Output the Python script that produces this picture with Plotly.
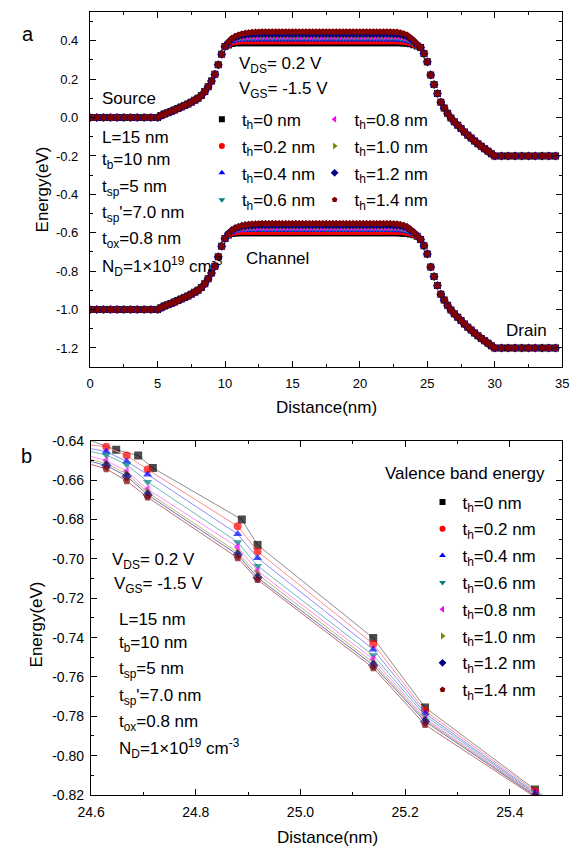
import plotly.graph_objects as go

# ---------------- data ----------------
TH_LABELS = ['0', '0.2', '0.4', '0.6', '0.8', '1.0', '1.2', '1.4']
COLORS = ['#000000', '#FF0000', '#0000FF', '#008080', '#FF00FF', '#808000', '#000080', '#800000']
LINE_COLORS = ['#8C8C8C', '#FF8C8C', '#8C8CFF', '#70B8B8', '#FF8CFF', '#B8B870', '#7070B8', '#B87070']
SYMBOLS = ['square', 'circle', 'triangle-up', 'triangle-down', 'triangle-left', 'triangle-right', 'diamond', 'pentagon']

# Panel a: shared source-side region (all t_h overlap)
x_src = [0, 0.5, 1, 1.5, 2, 2.5, 3, 3.5, 4, 4.5, 5, 5.25, 5.5, 5.75, 6, 6.25, 6.5, 6.75, 7, 7.25,
         7.5, 7.75, 8, 8.25, 8.5, 8.75, 9, 9.25, 9.5, 9.75, 10]
cb_src = [0, 0, 0, 0, 0, 0, 0, 0, 0, 0, 0, 0.010, 0.018, 0.025, 0.032, 0.039, 0.047, 0.055, 0.063, 0.071,
          0.080, 0.090, 0.100, 0.115, 0.135, 0.160, 0.190, 0.225, 0.275, 0.330, 0.370]
vb_src = [-1.0, -1.0, -1.0, -1.0, -1.0, -1.0, -1.0, -1.0, -1.0, -1.0, -1.0, -0.990, -0.982, -0.975, -0.968,
          -0.961, -0.953, -0.945, -0.937, -0.929, -0.920, -0.910, -0.900, -0.885, -0.865, -0.840, -0.810,
          -0.775, -0.725, -0.670, -0.630]

# Panel a: channel region (series differ), 10.25 ... 24.25 nm
x_ch = [10.25, 10.5, 10.75, 11, 11.25, 11.5, 11.75, 12, 12.25, 12.5,
        12.75, 13, 13.25, 13.5, 13.75, 14, 14.25, 14.5, 14.75, 15, 15.25, 15.5, 15.75,
        16, 16.25, 16.5, 16.75, 17, 17.25, 17.5, 17.75, 18, 18.25, 18.5, 18.75, 19,
        19.25, 19.5, 19.75, 20, 20.25, 20.5, 20.75, 21, 21.25, 21.5, 21.75, 22, 22.25,
        22.5, 22.75, 23, 23.25, 23.5, 23.75, 24, 24.25]

cb_ch_0 = [0.378, 0.386, 0.389, 0.390, 0.390, 0.390, 0.390, 0.390, 0.390, 0.390,
           0.390, 0.390, 0.390, 0.390, 0.390, 0.390, 0.390, 0.390, 0.390, 0.390, 0.390, 0.390, 0.390,
           0.390, 0.390, 0.390, 0.390, 0.390, 0.390, 0.390, 0.390, 0.390, 0.390, 0.390, 0.390, 0.390,
           0.390, 0.390, 0.390, 0.390, 0.390, 0.390, 0.390, 0.390, 0.390, 0.390, 0.390, 0.390, 0.390,
           0.390, 0.390, 0.389, 0.388, 0.387, 0.384, 0.379, 0.372]
cb_ch_1 = [0.381, 0.391, 0.395, 0.397, 0.398, 0.398, 0.398, 0.398, 0.398, 0.398,
           0.398, 0.398, 0.398, 0.398, 0.398, 0.398, 0.398, 0.398, 0.398, 0.398, 0.398, 0.398, 0.398,
           0.398, 0.398, 0.398, 0.398, 0.398, 0.398, 0.398, 0.398, 0.398, 0.398, 0.398, 0.398, 0.398,
           0.398, 0.398, 0.398, 0.398, 0.398, 0.398, 0.398, 0.398, 0.398, 0.398, 0.398, 0.398, 0.398,
           0.398, 0.398, 0.397, 0.395, 0.393, 0.389, 0.382, 0.374]
cb_ch_2 = [0.383, 0.395, 0.401, 0.404, 0.405, 0.406, 0.406, 0.406, 0.406, 0.406,
           0.406, 0.406, 0.406, 0.406, 0.406, 0.406, 0.406, 0.406, 0.406, 0.406, 0.406, 0.406, 0.406,
           0.406, 0.406, 0.406, 0.406, 0.406, 0.406, 0.406, 0.406, 0.406, 0.406, 0.406, 0.406, 0.406,
           0.406, 0.406, 0.406, 0.406, 0.406, 0.406, 0.406, 0.406, 0.406, 0.406, 0.406, 0.406, 0.406,
           0.406, 0.405, 0.404, 0.402, 0.399, 0.393, 0.385, 0.375]
cb_ch_3 = [0.385, 0.399, 0.406, 0.410, 0.412, 0.413, 0.414, 0.414, 0.414, 0.414,
           0.414, 0.414, 0.414, 0.414, 0.414, 0.414, 0.414, 0.414, 0.414, 0.414, 0.414, 0.414, 0.414,
           0.414, 0.414, 0.414, 0.414, 0.414, 0.414, 0.414, 0.414, 0.414, 0.414, 0.414, 0.414, 0.414,
           0.414, 0.414, 0.414, 0.414, 0.414, 0.414, 0.414, 0.414, 0.414, 0.414, 0.414, 0.414, 0.414,
           0.414, 0.413, 0.412, 0.409, 0.405, 0.398, 0.388, 0.376]
cb_ch_4 = [0.387, 0.402, 0.410, 0.415, 0.418, 0.420, 0.421, 0.422, 0.422, 0.422,
           0.422, 0.422, 0.422, 0.422, 0.422, 0.422, 0.422, 0.422, 0.422, 0.422, 0.422, 0.422, 0.422,
           0.422, 0.422, 0.422, 0.422, 0.422, 0.422, 0.422, 0.422, 0.422, 0.422, 0.422, 0.422, 0.422,
           0.422, 0.422, 0.422, 0.422, 0.422, 0.422, 0.422, 0.422, 0.422, 0.422, 0.422, 0.422, 0.422,
           0.422, 0.421, 0.419, 0.416, 0.411, 0.402, 0.391, 0.377]
cb_ch_5 = [0.389, 0.405, 0.414, 0.420, 0.424, 0.427, 0.428, 0.429, 0.430, 0.430,
           0.430, 0.430, 0.430, 0.430, 0.430, 0.430, 0.430, 0.430, 0.430, 0.430, 0.430, 0.430, 0.430,
           0.430, 0.430, 0.430, 0.430, 0.430, 0.430, 0.430, 0.430, 0.430, 0.430, 0.430, 0.430, 0.430,
           0.430, 0.430, 0.430, 0.430, 0.430, 0.430, 0.430, 0.430, 0.430, 0.430, 0.430, 0.430, 0.430,
           0.430, 0.429, 0.427, 0.423, 0.417, 0.407, 0.394, 0.378]
cb_ch_6 = [0.391, 0.408, 0.418, 0.425, 0.430, 0.433, 0.435, 0.436, 0.437, 0.438,
           0.438, 0.438, 0.438, 0.438, 0.438, 0.438, 0.438, 0.438, 0.438, 0.438, 0.438, 0.438, 0.438,
           0.438, 0.438, 0.438, 0.438, 0.438, 0.438, 0.438, 0.438, 0.438, 0.438, 0.438, 0.438, 0.438,
           0.438, 0.438, 0.438, 0.438, 0.438, 0.438, 0.438, 0.438, 0.438, 0.438, 0.438, 0.438, 0.438,
           0.437, 0.436, 0.434, 0.430, 0.423, 0.411, 0.397, 0.379]
cb_ch_7 = [0.393, 0.411, 0.422, 0.430, 0.435, 0.439, 0.442, 0.444, 0.445, 0.446,
           0.447, 0.447, 0.447, 0.447, 0.447, 0.447, 0.447, 0.447, 0.447, 0.447, 0.447, 0.447, 0.447,
           0.447, 0.447, 0.447, 0.447, 0.447, 0.447, 0.447, 0.447, 0.447, 0.447, 0.447, 0.447, 0.447,
           0.447, 0.447, 0.447, 0.447, 0.447, 0.447, 0.447, 0.447, 0.447, 0.447, 0.447, 0.447, 0.447,
           0.446, 0.445, 0.442, 0.437, 0.430, 0.416, 0.400, 0.380]

vb_ch_0 = [-0.612, -0.604, -0.601, -0.600, -0.600, -0.600, -0.600, -0.600, -0.600, -0.600,
           -0.600, -0.600, -0.600, -0.600, -0.600, -0.600, -0.600, -0.600, -0.600, -0.600, -0.600, -0.600, -0.600,
           -0.600, -0.600, -0.600, -0.600, -0.600, -0.600, -0.600, -0.600, -0.600, -0.600, -0.600, -0.600, -0.600,
           -0.600, -0.600, -0.600, -0.600, -0.600, -0.600, -0.600, -0.600, -0.600, -0.600, -0.600, -0.600, -0.600,
           -0.600, -0.600, -0.601, -0.602, -0.603, -0.606, -0.611, -0.618]
vb_ch_1 = [-0.610, -0.600, -0.596, -0.594, -0.593, -0.593, -0.593, -0.593, -0.593, -0.593,
           -0.593, -0.593, -0.593, -0.593, -0.593, -0.593, -0.593, -0.593, -0.593, -0.593, -0.593, -0.593, -0.593,
           -0.593, -0.593, -0.593, -0.593, -0.593, -0.593, -0.593, -0.593, -0.593, -0.593, -0.593, -0.593, -0.593,
           -0.593, -0.593, -0.593, -0.593, -0.593, -0.593, -0.593, -0.593, -0.593, -0.593, -0.593, -0.593, -0.593,
           -0.593, -0.593, -0.594, -0.596, -0.598, -0.602, -0.609, -0.617]
vb_ch_2 = [-0.609, -0.597, -0.591, -0.588, -0.587, -0.586, -0.586, -0.586, -0.586, -0.586,
           -0.586, -0.586, -0.586, -0.586, -0.586, -0.586, -0.586, -0.586, -0.586, -0.586, -0.586, -0.586, -0.586,
           -0.586, -0.586, -0.586, -0.586, -0.586, -0.586, -0.586, -0.586, -0.586, -0.586, -0.586, -0.586, -0.586,
           -0.586, -0.586, -0.586, -0.586, -0.586, -0.586, -0.586, -0.586, -0.586, -0.586, -0.586, -0.586, -0.586,
           -0.586, -0.587, -0.588, -0.590, -0.593, -0.599, -0.607, -0.617]
vb_ch_3 = [-0.608, -0.594, -0.587, -0.583, -0.581, -0.580, -0.579, -0.579, -0.579, -0.579,
           -0.579, -0.579, -0.579, -0.579, -0.579, -0.579, -0.579, -0.579, -0.579, -0.579, -0.579, -0.579, -0.579,
           -0.579, -0.579, -0.579, -0.579, -0.579, -0.579, -0.579, -0.579, -0.579, -0.579, -0.579, -0.579, -0.579,
           -0.579, -0.579, -0.579, -0.579, -0.579, -0.579, -0.579, -0.579, -0.579, -0.579, -0.579, -0.579, -0.579,
           -0.579, -0.580, -0.581, -0.584, -0.588, -0.595, -0.605, -0.617]
vb_ch_4 = [-0.607, -0.592, -0.584, -0.579, -0.576, -0.574, -0.573, -0.572, -0.572, -0.572,
           -0.572, -0.572, -0.572, -0.572, -0.572, -0.572, -0.572, -0.572, -0.572, -0.572, -0.572, -0.572, -0.572,
           -0.572, -0.572, -0.572, -0.572, -0.572, -0.572, -0.572, -0.572, -0.572, -0.572, -0.572, -0.572, -0.572,
           -0.572, -0.572, -0.572, -0.572, -0.572, -0.572, -0.572, -0.572, -0.572, -0.572, -0.572, -0.572, -0.572,
           -0.572, -0.573, -0.575, -0.578, -0.583, -0.592, -0.603, -0.617]
vb_ch_5 = [-0.606, -0.590, -0.581, -0.575, -0.571, -0.568, -0.567, -0.566, -0.565, -0.565,
           -0.565, -0.565, -0.565, -0.565, -0.565, -0.565, -0.565, -0.565, -0.565, -0.565, -0.565, -0.565, -0.565,
           -0.565, -0.565, -0.565, -0.565, -0.565, -0.565, -0.565, -0.565, -0.565, -0.565, -0.565, -0.565, -0.565,
           -0.565, -0.565, -0.565, -0.565, -0.565, -0.565, -0.565, -0.565, -0.565, -0.565, -0.565, -0.565, -0.565,
           -0.565, -0.566, -0.568, -0.572, -0.578, -0.588, -0.601, -0.617]
vb_ch_6 = [-0.605, -0.588, -0.578, -0.571, -0.566, -0.563, -0.561, -0.560, -0.559, -0.558,
           -0.558, -0.558, -0.558, -0.558, -0.558, -0.558, -0.558, -0.558, -0.558, -0.558, -0.558, -0.558, -0.558,
           -0.558, -0.558, -0.558, -0.558, -0.558, -0.558, -0.558, -0.558, -0.558, -0.558, -0.558, -0.558, -0.558,
           -0.558, -0.558, -0.558, -0.558, -0.558, -0.558, -0.558, -0.558, -0.558, -0.558, -0.558, -0.558, -0.558,
           -0.559, -0.560, -0.562, -0.566, -0.573, -0.585, -0.599, -0.617]
vb_ch_7 = [-0.606, -0.588, -0.577, -0.569, -0.564, -0.560, -0.557, -0.555, -0.554, -0.553,
           -0.552, -0.552, -0.552, -0.552, -0.552, -0.552, -0.552, -0.552, -0.552, -0.552, -0.552, -0.552, -0.552,
           -0.552, -0.552, -0.552, -0.552, -0.552, -0.552, -0.552, -0.552, -0.552, -0.552, -0.552, -0.552, -0.552,
           -0.552, -0.552, -0.552, -0.552, -0.552, -0.552, -0.552, -0.552, -0.552, -0.552, -0.552, -0.552, -0.552,
           -0.553, -0.554, -0.557, -0.562, -0.569, -0.583, -0.599, -0.619]

# Panel a: shared drain-side region
x_drn = [24.5, 24.75, 25, 25.25, 25.5, 25.75, 26, 26.25, 26.5, 26.75, 27, 27.25, 27.5, 27.75, 28, 28.25,
         28.5, 28.75, 29, 29.25, 29.5, 29.75, 30, 30.5, 31, 31.5, 32, 32.5, 33, 33.5, 34, 34.5]
cb_drn = [0.365, 0.333, 0.290, 0.222, 0.172, 0.125, 0.080, 0.050, 0.022, -0.002, -0.022, -0.040, -0.057,
          -0.075, -0.092, -0.107, -0.122, -0.136, -0.150, -0.163, -0.176, -0.188, -0.200, -0.200, -0.200,
          -0.200, -0.200, -0.200, -0.200, -0.200, -0.200, -0.200]
vb_drn = [-0.635, -0.667, -0.710, -0.778, -0.828, -0.875, -0.920, -0.950, -0.978, -1.002, -1.022, -1.040,
          -1.057, -1.075, -1.092, -1.107, -1.122, -1.136, -1.150, -1.163, -1.176, -1.188, -1.200, -1.200,
          -1.200, -1.200, -1.200, -1.200, -1.200, -1.200, -1.200, -1.200]

CB_CH = [cb_ch_0, cb_ch_1, cb_ch_2, cb_ch_3, cb_ch_4, cb_ch_5, cb_ch_6, cb_ch_7]
VB_CH = [vb_ch_0, vb_ch_1, vb_ch_2, vb_ch_3, vb_ch_4, vb_ch_5, vb_ch_6, vb_ch_7]

# Panel b: valence band energy, zoomed
xb_0 = [24.6, 24.648, 24.69, 24.718, 24.888, 24.918, 25.139, 25.238, 25.448, 25.5]
xb_n = [24.6, 24.629, 24.668, 24.708, 24.880, 24.918, 25.139, 25.238, 25.448, 25.5]
yb_0 = [-0.6400, -0.6446, -0.6475, -0.6538, -0.6800, -0.6929, -0.7402, -0.7755, -0.8172, -0.8275]
yb_1 = [-0.6422, -0.6430, -0.6475, -0.6546, -0.6834, -0.6962, -0.7432, -0.7772, -0.8180, -0.8282]
yb_2 = [-0.6440, -0.6455, -0.6505, -0.6571, -0.6874, -0.6995, -0.7460, -0.7785, -0.8188, -0.8288]
yb_3 = [-0.6455, -0.6472, -0.6521, -0.6609, -0.6915, -0.7036, -0.7490, -0.7797, -0.8193, -0.8292]
yb_4 = [-0.6480, -0.6500, -0.6555, -0.6646, -0.6940, -0.7061, -0.7510, -0.7810, -0.8197, -0.8295]
yb_5 = [-0.6495, -0.6516, -0.6568, -0.6662, -0.6967, -0.7078, -0.7527, -0.7818, -0.8200, -0.8298]
yb_6 = [-0.6505, -0.6526, -0.6580, -0.6674, -0.6979, -0.7095, -0.7540, -0.7826, -0.8204, -0.8302]
yb_7 = [-0.6520, -0.6543, -0.6604, -0.6687, -0.6995, -0.7106, -0.7554, -0.7843, -0.8210, -0.8306]
XB = [xb_0, xb_n, xb_n, xb_n, xb_n, xb_n, xb_n, xb_n]
YB = [yb_0, yb_1, yb_2, yb_3, yb_4, yb_5, yb_6, yb_7]

# tick labels
ya_tickvals = [-1.2, -1.0, -0.8, -0.6, -0.4, -0.2, 0.0, 0.2, 0.4]
ya_ticktext = ['-1.2', '-1.0', '-0.8', '-0.6', '-0.4', '-0.2', '0.0', '0.2', '0.4']
yb_tickvals = [-0.82, -0.80, -0.78, -0.76, -0.74, -0.72, -0.70, -0.68, -0.66, -0.64]
yb_ticktext = ['-0.82', '-0.80', '-0.78', '-0.76', '-0.74', '-0.72', '-0.70', '-0.68', '-0.66', '-0.64']
xb_tickvals = [24.6, 24.8, 25.0, 25.2, 25.4]
xb_ticktext = ['24.6', '24.8', '25.0', '25.2', '25.4']

# ---------------- figure ----------------
W, H = 575, 858
FONT = 'Liberation Sans, Arial, sans-serif'
TXT = 17


def px(x):
    return x / W


def py(y):
    return 1 - y / H


fig = go.Figure()

# panel a data markers
for k in range(8):
    xs = x_src + x_ch + x_drn + [None] + x_src + x_ch + x_drn
    ys = cb_src + CB_CH[k] + cb_drn + [None] + vb_src + VB_CH[k] + vb_drn
    fig.add_trace(go.Scatter(
        x=xs, y=ys, mode='markers', xaxis='x', yaxis='y',
        marker=dict(symbol=SYMBOLS[k], size=7, color=COLORS[k], line=dict(width=0)),
        showlegend=False,
    ))

# panel a legend entries (small symbols)
for k in range(8):
    fig.add_trace(go.Scatter(
        x=[None], y=[None], mode='markers', xaxis='x', yaxis='y',
        marker=dict(symbol=SYMBOLS[k], size=6, color=COLORS[k], line=dict(width=0)),
        name='t<sub>h</sub>=' + TH_LABELS[k] + ' nm',
        legend='legend' if k < 4 else 'legend3', legendgroup='a%d' % k,
    ))

# panel b lines + markers
for k in range(8):
    n = len(XB[k])
    sizes = [0] + [8] * (n - 2) + [0]
    fig.add_trace(go.Scatter(
        x=XB[k], y=YB[k], mode='lines+markers', xaxis='x2', yaxis='y2',
        line=dict(color=LINE_COLORS[k], width=1),
        marker=dict(symbol=SYMBOLS[k], size=sizes, color=COLORS[k], line=dict(width=0)),
        showlegend=False,
    ))

for k in range(8):
    fig.add_trace(go.Scatter(
        x=[None], y=[None], mode='markers', xaxis='x2', yaxis='y2',
        marker=dict(symbol=SYMBOLS[k], size=6, color=COLORS[k], line=dict(width=0)),
        name='t<sub>h</sub>=' + TH_LABELS[k] + ' nm',
        legend='legend2', legendgroup='b%d' % k,
    ))

axis_common = dict(showline=True, linecolor='black', linewidth=1.3, mirror='ticks', ticks='inside',
                   ticklen=6, tickwidth=1, tickcolor='black', showgrid=False, zeroline=False,
                   color='black', ticklabeloverflow='allow')

fig.update_layout(
    width=W, height=H, margin=dict(l=0, r=0, t=0, b=0),
    paper_bgcolor='white', plot_bgcolor='white',
    font=dict(family=FONT, size=TXT, color='black'),
    xaxis=dict(domain=[px(79), px(569)], range=[0, 35], anchor='y', dtick=5, tick0=0,
               tickfont=dict(size=13), ticklabelstandoff=4,
               minor=dict(ticks='inside', ticklen=3, dtick=2.5, tickcolor='black'), **axis_common),
    yaxis=dict(domain=[py(366), py(4)], range=[-1.3, 0.55], anchor='x',
               tickvals=ya_tickvals, ticktext=ya_ticktext, tickfont=dict(size=13), ticklabelstandoff=8,
               minor=dict(ticks='inside', ticklen=3, dtick=0.1, tick0=0, tickcolor='black'), **axis_common),
    xaxis2=dict(domain=[px(80), px(569)], range=[24.6, 25.5], anchor='y2',
                tickvals=xb_tickvals, ticktext=xb_ticktext, tickfont=dict(size=14), ticklabelstandoff=4,
                minor=dict(ticks='inside', ticklen=3, dtick=0.1, tick0=24.6, tickcolor='black'), **axis_common),
    yaxis2=dict(domain=[py(802), py(441)], range=[-0.82, -0.64], anchor='x2',
                tickvals=yb_tickvals, ticktext=yb_ticktext, tickfont=dict(size=14), ticklabelstandoff=3,
                minor=dict(ticks='inside', ticklen=3, dtick=0.01, tick0=-0.64, tickcolor='black'), **axis_common),
    legend=dict(x=px(195), y=py(95.5), xanchor='left', yanchor='top', bgcolor='rgba(0,0,0,0)',
                font=dict(size=TXT), tracegroupgap=1.7, itemclick=False),
    legend3=dict(x=px(312), y=py(95.5), xanchor='left', yanchor='top', bgcolor='rgba(0,0,0,0)',
                 font=dict(size=TXT), tracegroupgap=1.7, itemclick=False),
    legend2=dict(x=px(424), y=py(485.5), xanchor='left', yanchor='top', bgcolor='rgba(0,0,0,0)',
                 font=dict(size=TXT), tracegroupgap=1.7, itemclick=False),
)


def ann(text, x, y, size=TXT, xanchor='left', angle=0):
    fig.add_annotation(text=text, x=px(x), y=py(y), xref='paper', yref='paper', showarrow=False,
                       xanchor=xanchor, yanchor='middle', textangle=angle,
                       font=dict(size=size, family=FONT, color='black'))


# panel a texts
ann('a', 15, 26, size=20, xanchor='center')
ann('V<sub>DS</sub>= 0.2 V', 231, 58)
ann('V<sub>GS</sub>= -1.5 V', 231, 84)
ann('Source', 89, 92)
ann('L=15 nm', 89, 132)
ann('t<sub>b</sub>=10 nm', 89, 156)
ann('t<sub>sp</sub>=5 nm', 89, 183)
ann("t<sub>sp</sub>'=7.0 nm", 89, 210)
ann('t<sub>ox</sub>=0.8 nm', 89, 236)
ann('N<sub>D</sub>=1×10<sup>19</sup> cm<sup>-3</sup>', 89, 263)
ann('Channel', 239, 255)
ann('Drain', 509, 329)
ann('Energy(eV)', 30, 185, angle=-90, xanchor='center')
ann('Distance(nm)', 324, 407, xanchor='center')

# panel b texts
ann('b', 13, 457, size=20, xanchor='center')
ann('Valence band energy', 383, 474)
ann('V<sub>DS</sub>= 0.2 V', 100, 563)
ann('V<sub>GS</sub>= -1.5 V', 102, 588)
ann('L=15 nm', 107, 623)
ann('t<sub>b</sub>=10 nm', 107, 648)
ann('t<sub>sp</sub>=5 nm', 107, 675)
ann("t<sub>sp</sub>'=7.0 nm", 107, 702)
ann('t<sub>ox</sub>=0.8 nm', 107, 729)
ann('N<sub>D</sub>=1×10<sup>19</sup> cm<sup>-3</sup>', 107, 755)
ann('Energy(eV)', 23, 628, angle=-90, xanchor='center')
ann('Distance(nm)', 325, 845, xanchor='center')

fig.write_html('out.html')
